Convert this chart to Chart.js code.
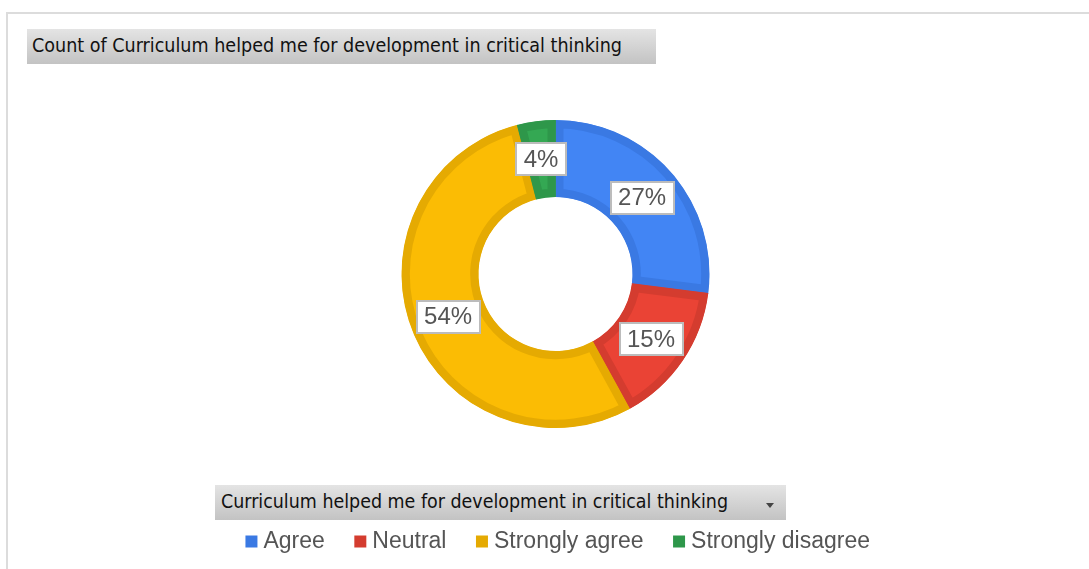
<!DOCTYPE html>
<html>
<head>
<meta charset="utf-8">
<script src="https://cdn.jsdelivr.net/npm/chart.js@4.4.1/dist/chart.umd.min.js"></script>
<style>
  html, body { margin:0; padding:0; background:#fff; overflow:hidden; }
  #wrap { position:relative; width:1089px; height:569px; }
  #frame { position:absolute; left:6px; top:12px; width:1200px; height:700px;
           border-top:2px solid #dcdcdc; border-left:2px solid #dcdcdc; }
  #chartBox { position:absolute; left:0; top:0; width:1089px; height:569px; }
  .bar { position:absolute; background:linear-gradient(#e4e4e4, #c3c3c3);
         font-family:"DejaVu Sans Condensed","Liberation Sans Narrow","DejaVu Sans","Noto Sans",sans-serif;
         font-size:19px; color:#111; white-space:nowrap; overflow:visible; }
  .bar span { position:absolute; display:inline-block; transform-origin:0 50%; }
  #titleBar { left:27px; top:29px; width:629px; height:35px; }
  #filterBar { left:215px; top:485px; width:571px; height:35px; }
  #tri { position:absolute; left:551px; top:18px; width:0; height:0;
         border-left:4px solid transparent; border-right:4px solid transparent; border-top:5px solid #444; }
</style>
</head>
<body>
<div id="wrap">
  <div id="frame"></div>
  <div id="chartBox"><canvas id="c"></canvas></div>
  <div class="bar" id="titleBar"><span id="titleText" data-w="590" style="left:5px;top:5px;">Count of Curriculum helped me for development in critical thinking</span></div>
  <div class="bar" id="filterBar"><span id="filterText" data-w="507" style="left:6px;top:5px;">Curriculum helped me for development in critical thinking</span><div id="tri"></div></div>
</div>
<script>
const categories = ['Agree', 'Neutral', 'Strongly agree', 'Strongly disagree'];
const counts = [27, 15, 54, 4];
const fillColors = ['#4285F4', '#EA4335', '#FBBC04', '#34A853'];
const edgeColors = ['#3A79E3', '#D43C2F', '#E5AA02', '#2E974A'];

// fit bar texts horizontally
document.querySelectorAll('.bar span').forEach(s => {
  const w = s.getBoundingClientRect().width;
  const target = parseFloat(s.dataset.w);
  s.style.transform = 'scaleX(' + (target / w) + ')';
});

const pctLabels = {
  id: 'pctLabels',
  afterDatasetsDraw(chart) {
    const ctx = chart.ctx;
    const meta = chart.getDatasetMeta(0);
    const total = counts.reduce((a, b) => a + b, 0);
    ctx.save();
    ctx.font = '24px "Liberation Sans", Arial, sans-serif';
    ctx.textAlign = 'center';
    ctx.textBaseline = 'middle';
    meta.data.forEach((arc, i) => {
      const p = arc.getCenterPoint();
      const txt = Math.round(counts[i] / total * 100) + '%';
      const w = Math.round(ctx.measureText(txt).width + 17);
      const h = 34;
      const x0 = Math.round(p.x - w / 2), y0 = Math.round(p.y - h / 2);
      ctx.fillStyle = '#ffffff';
      ctx.fillRect(x0, y0, w, h);
      ctx.strokeStyle = '#bcbcbc';
      ctx.lineWidth = 2;
      ctx.strokeRect(x0 + 1, y0 + 1, w - 2, h - 2);
      ctx.fillStyle = '#555555';
      ctx.fillText(txt, p.x, p.y + 1);
    });
    ctx.restore();
  }
};

const legendShift = {
  id: 'legendShift',
  afterLayout(chart) {
    chart.legend.left += 5;
    chart.legend.right += 5;
  }
};

new Chart(document.getElementById('c'), {
  type: 'doughnut',
  data: {
    labels: categories,
    datasets: [{
      data: counts,
      backgroundColor: fillColors,
      borderColor: edgeColors,
      borderWidth: 8,
      borderAlign: 'inner',
      hoverOffset: 0
    }]
  },
  options: {
    responsive: true,
    maintainAspectRatio: false,
    animation: false,
    cutout: '50%',
    events: [],
    layout: { padding: { left: 22, right: 0, top: 120, bottom: 6 } },
    plugins: {
      tooltip: { enabled: false },
      legend: {
        position: 'bottom',
        title: { display: true, text: '', font: { size: 10, lineHeight: 1 }, padding: { top: 57, bottom: 0 } },
        labels: {
          color: '#555555',
          font: { size: 23, family: '"Liberation Sans", Arial, sans-serif' },
          usePointStyle: true,
          boxWidth: 1,
          boxHeight: 12,
          padding: 35,
          generateLabels(chart) {
            const items = Chart.overrides.doughnut.plugins.legend.labels.generateLabels(chart);
            items.forEach((it, i) => {
              it.fillStyle = edgeColors[i];
              it.strokeStyle = edgeColors[i];
              it.lineWidth = 0;
              it.pointStyle = 'rect';
            });
            return items;
          }
        }
      }
    }
  },
  plugins: [pctLabels, legendShift]
});
</script>
</body>
</html>
